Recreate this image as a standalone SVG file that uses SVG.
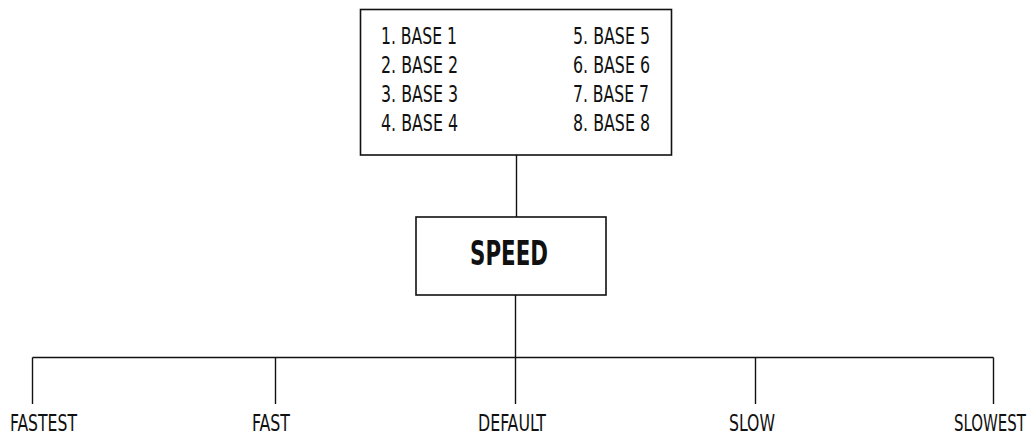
<svg xmlns="http://www.w3.org/2000/svg" width="1035" height="439" viewBox="0 0 1035 439">
<style>
  .box { fill: #ffffff; stroke: #111111; stroke-width: 1.6; }
  .wire { fill: none; stroke: #111111; stroke-width: 1.4; }
  text { font-family: "Liberation Sans Narrow", "DejaVu Sans Condensed", "Liberation Sans", sans-serif; fill: #111111; }
  .item { font-size: 22.5px; }
  .title { font-size: 34px; font-weight: bold; }
  .leaf { font-size: 23.5px; }
</style>
<rect width="1035" height="439" fill="#ffffff"/>
<g id="connectors">
  <line class="wire" x1="516.5" y1="155" x2="516.5" y2="217"/>
  <line class="wire" x1="515.5" y1="295" x2="515.5" y2="404"/>
  <line class="wire" x1="32.5" y1="357.5" x2="993.5" y2="357.5"/>
  <line class="wire" x1="32.5" y1="357.5" x2="32.5" y2="404"/>
  <line class="wire" x1="275.5" y1="357.5" x2="275.5" y2="404"/>
  <line class="wire" x1="755.5" y1="357.5" x2="755.5" y2="404"/>
  <line class="wire" x1="993.5" y1="357.5" x2="993.5" y2="404"/>
</g>
<g id="bases">
  <rect class="box" x="360.5" y="9.5" width="311" height="145.5"/>
  <text class="item" x="381" y="43.5" textLength="76" lengthAdjust="spacingAndGlyphs">1. BASE 1</text>
  <text class="item" x="381" y="72.5" textLength="77" lengthAdjust="spacingAndGlyphs">2. BASE 2</text>
  <text class="item" x="381" y="101.5" textLength="77" lengthAdjust="spacingAndGlyphs">3. BASE 3</text>
  <text class="item" x="381" y="130.5" textLength="77" lengthAdjust="spacingAndGlyphs">4. BASE 4</text>
  <text class="item" x="573" y="43.5" textLength="77" lengthAdjust="spacingAndGlyphs">5. BASE 5</text>
  <text class="item" x="573" y="72.5" textLength="77" lengthAdjust="spacingAndGlyphs">6. BASE 6</text>
  <text class="item" x="573" y="101.5" textLength="76" lengthAdjust="spacingAndGlyphs">7. BASE 7</text>
  <text class="item" x="573" y="130.5" textLength="77" lengthAdjust="spacingAndGlyphs">8. BASE 8</text>
</g>
<g id="speed">
  <rect class="box" x="416" y="217" width="190" height="78"/>
  <text class="title" x="470" y="265" textLength="78" lengthAdjust="spacingAndGlyphs">SPEED</text>
</g>
<g id="fastest">
  <text class="leaf" x="10" y="431" textLength="67" lengthAdjust="spacingAndGlyphs">FASTEST</text>
</g>
<g id="fast">
  <text class="leaf" x="252" y="431" textLength="38" lengthAdjust="spacingAndGlyphs">FAST</text>
</g>
<g id="default">
  <text class="leaf" x="478" y="431" textLength="68" lengthAdjust="spacingAndGlyphs">DEFAULT</text>
</g>
<g id="slow">
  <text class="leaf" x="729" y="431" textLength="46" lengthAdjust="spacingAndGlyphs">SLOW</text>
</g>
<g id="slowest">
  <text class="leaf" x="954" y="431" textLength="72" lengthAdjust="spacingAndGlyphs">SLOWEST</text>
</g>
</svg>
